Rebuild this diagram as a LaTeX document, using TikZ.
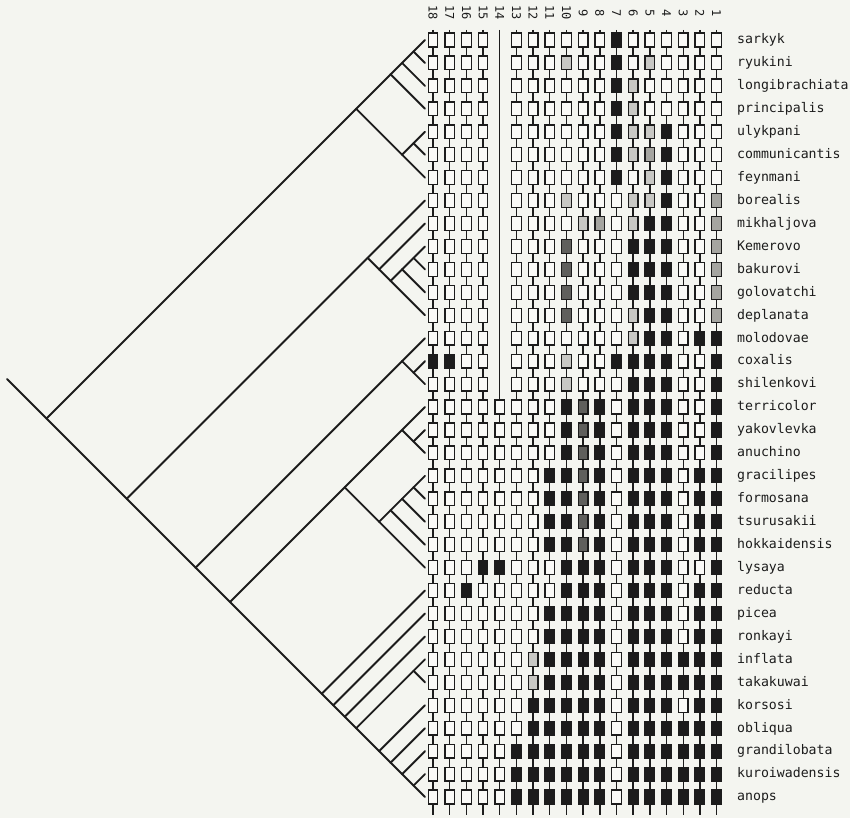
\documentclass[tikz,border=0pt]{standalone}
\usepackage{fontspec}
\usetikzlibrary{calc}
\newfontfamily\labfont{DejaVu Sans Mono}
\definecolor{bg}{RGB}{244,245,240}
\definecolor{ink}{RGB}{28,28,28}
\definecolor{cw}{RGB}{250,250,247}
\definecolor{cb}{RGB}{28,28,28}
\definecolor{cl}{RGB}{200,200,196}
\definecolor{cg}{RGB}{165,165,160}
\definecolor{cd}{RGB}{95,95,92}
\newcommand\clade[3]{\coordinate (#1) at ({425-(#3-#2)*11.47},{40+(#2+#3)*11.47});}
\begin{document}
\begin{tikzpicture}[x=1pt,y=-1pt,
  tree/.style={line width=1.9pt, draw=ink, line cap=round, line join=round},
  stem/.style={line width=1.4pt, draw=ink},
  cellbox/.style={line width=1.3pt, draw=ink},
  taxon/.style={anchor=base west, inner sep=0pt, text=ink, font=\labfont\fontsize{13.2}{15}\selectfont},
  colnum/.style={rotate=-90, inner sep=0pt, text=ink, font=\labfont\fontsize{12}{14}\selectfont}]
\fill[bg] (0,0) rectangle (850,818);
\useasboundingbox (0,0) rectangle (850,818);
% column stems
\foreach \cj in {0,...,17} \draw[stem] ({433+16.68*\cj},30) -- ({433+16.68*\cj},815);
% character matrix (columns 18 ... 1, left to right)
\foreach \rowdata [count=\ri from 0] in {
 {w,w,w,w,w,w,w,w,w,w,w,b,w,w,w,w,w,w},
 {w,w,w,w,w,w,w,w,l,w,w,b,w,l,w,w,w,w},
 {w,w,w,w,w,w,w,w,w,w,w,b,l,w,w,w,w,w},
 {w,w,w,w,w,w,w,w,w,w,w,b,l,w,w,w,w,w},
 {w,w,w,w,w,w,w,w,w,w,w,b,l,l,b,w,w,w},
 {w,w,w,w,w,w,w,w,w,w,w,b,l,g,b,w,w,w},
 {w,w,w,w,w,w,w,w,w,w,w,b,w,l,b,w,w,w},
 {w,w,w,w,w,w,w,w,l,w,w,w,l,l,b,w,w,g},
 {w,w,w,w,w,w,w,w,w,l,g,w,l,b,b,w,w,g},
 {w,w,w,w,w,w,w,w,d,w,w,w,b,b,b,w,w,g},
 {w,w,w,w,w,w,w,w,d,w,w,w,b,b,b,w,w,g},
 {w,w,w,w,w,w,w,w,d,w,w,w,b,b,b,w,w,g},
 {w,w,w,w,w,w,w,w,d,w,w,w,l,b,b,w,w,g},
 {w,w,w,w,w,w,w,w,w,w,w,w,l,b,b,w,b,b},
 {b,b,w,w,w,w,w,w,l,w,w,b,b,b,b,w,w,b},
 {w,w,w,w,w,w,w,w,l,w,w,w,b,b,b,w,w,b},
 {w,w,w,w,w,w,w,w,b,d,b,w,b,b,b,w,w,b},
 {w,w,w,w,w,w,w,w,b,d,b,w,b,b,b,w,w,b},
 {w,w,w,w,w,w,w,w,b,d,b,w,b,b,b,w,w,b},
 {w,w,w,w,w,w,w,b,b,d,b,w,b,b,b,w,b,b},
 {w,w,w,w,w,w,w,b,b,d,b,w,b,b,b,w,b,b},
 {w,w,w,w,w,w,w,b,b,d,b,w,b,b,b,w,b,b},
 {w,w,w,w,w,w,w,b,b,d,b,w,b,b,b,w,b,b},
 {w,w,w,b,b,w,w,w,b,b,b,w,b,b,b,w,w,b},
 {w,w,b,w,w,w,w,w,b,b,b,w,b,b,b,w,b,b},
 {w,w,w,w,w,w,w,b,b,b,b,w,b,b,b,w,b,b},
 {w,w,w,w,w,w,w,b,b,b,b,w,b,b,b,w,b,b},
 {w,w,w,w,w,w,l,b,b,b,b,w,b,b,b,b,b,b},
 {w,w,w,w,w,w,l,b,b,b,b,w,b,b,b,b,b,b},
 {w,w,w,w,w,w,b,b,b,b,b,w,b,b,b,w,b,b},
 {w,w,w,w,w,w,b,b,b,b,b,w,b,b,b,b,b,b},
 {w,w,w,w,w,b,b,b,b,b,b,w,b,b,b,b,b,b},
 {w,w,w,w,w,b,b,b,b,b,b,w,b,b,b,b,b,b},
 {w,w,w,w,w,b,b,b,b,b,b,w,b,b,b,b,b,b}} {
  \foreach \cc [count=\cj from 0] in \rowdata {
    \pgfmathtruncatemacro\cskip{and(\ri<16,\cj==4)}
    \ifnum\cskip=0
      \filldraw[cellbox, fill=c\cc] ({433+16.68*\cj-4.8},{40+22.94*\ri-6.9}) rectangle ++(9.6,13.8);
    \fi
  }
}
% column numbers
\foreach \nm [count=\k from 0] in {18,17,16,15,14,13,12,11,10,9,8,7,6,5,4,3,2,1}
  \node[colnum] (cn\k) at ({433+16.68*\k},13) {\nm};
% taxon labels
\foreach \nm [count=\k from 0] in {sarkyk,ryukini,longibrachiata,principalis,ulykpani,communicantis,feynmani,borealis,mikhaljova,Kemerovo,bakurovi,golovatchi,deplanata,molodovae,coxalis,shilenkovi,terricolor,yakovlevka,anuchino,gracilipes,formosana,tsurusakii,hokkaidensis,lysaya,reducta,picea,ronkayi,inflata,takakuwai,korsosi,obliqua,grandilobata,kuroiwadensis,anops}
  \node[taxon] (lab\k) at (737,{40+22.94*\k+3.8}) {\nm};
% tree tips and internal nodes
\foreach \k in {0,...,33} \coordinate (t\k) at (425,{40+22.94*\k});
\clade{root}{0}{33}
\clade{A}{0}{6}\clade{A1}{0}{3}\clade{A2}{0}{2}\clade{A3}{0}{1}\clade{A4}{4}{6}\clade{A5}{4}{5}
\clade{B}{7}{33}
\clade{C}{7}{12}\clade{C1}{8}{12}\clade{C2}{9}{12}\clade{C3}{9}{11}\clade{C4}{9}{10}
\clade{D}{13}{33}\clade{E}{13}{15}\clade{E1}{14}{15}
\clade{F}{16}{33}\clade{G}{16}{23}\clade{G1}{16}{18}\clade{G2}{17}{18}
\clade{H}{19}{23}\clade{H1}{19}{22}\clade{H2}{19}{21}\clade{H3}{19}{20}
\clade{I}{24}{33}\clade{I1}{25}{33}\clade{I2}{26}{33}\clade{I3}{27}{33}
\clade{J}{27}{28}\clade{K}{29}{33}\clade{K1}{30}{33}\clade{K2}{31}{33}\clade{K3}{32}{33}
\coordinate (rootstem) at ($(root)+(-39.5,-39.5)$);
\draw[tree] (rootstem) -- (root);
\foreach \a/\b in {root/A,root/B,A/A1,A/A4,A1/A2,A1/t3,A2/A3,A2/t2,A3/t0,A3/t1,A4/A5,A4/t6,A5/t4,A5/t5,
  B/C,B/D,C/t7,C/C1,C1/t8,C1/C2,C2/C3,C2/t12,C3/C4,C3/t11,C4/t9,C4/t10,
  D/E,D/F,E/t13,E/E1,E1/t14,E1/t15,
  F/G,F/I,G/G1,G/H,G1/t16,G1/G2,G2/t17,G2/t18,
  H/H1,H/t23,H1/H2,H1/t22,H2/H3,H2/t21,H3/t19,H3/t20,
  I/t24,I/I1,I1/t25,I1/I2,I2/t26,I2/I3,I3/J,I3/K,J/t27,J/t28,
  K/t29,K/K1,K1/t30,K1/K2,K2/t31,K2/K3,K3/t32,K3/t33}
  \draw[tree] (\a) -- (\b);
\end{tikzpicture}
\end{document}
